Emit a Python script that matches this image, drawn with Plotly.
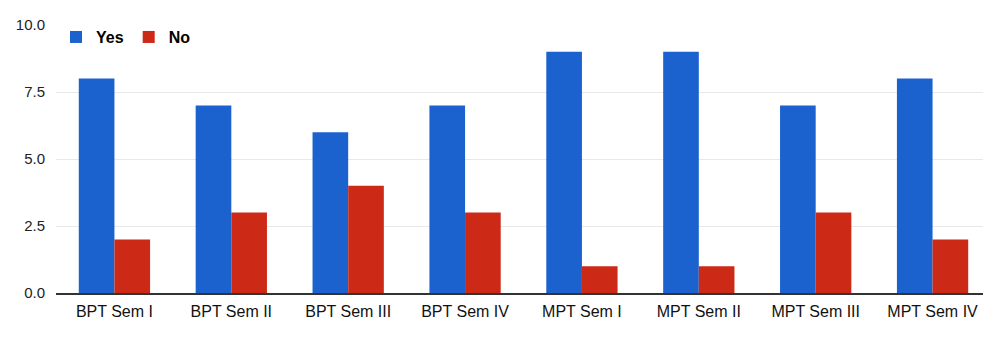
import plotly.graph_objects as go

categories = ["BPT Sem I", "BPT Sem II", "BPT Sem III", "BPT Sem IV",
              "MPT Sem I", "MPT Sem II", "MPT Sem III", "MPT Sem IV"]
yes_values = [8, 7, 6, 7, 9, 9, 7, 8]
no_values = [2, 3, 4, 3, 1, 1, 3, 2]
y_ticks = [0, 2.5, 5, 7.5, 10]
y_tick_labels = ["0.0", "2.5", "5.0", "7.5", "10.0"]

fig = go.Figure()
fig.add_trace(go.Bar(x=categories, y=yes_values, name="Yes",
                     marker=dict(color="#1b62cf", line=dict(width=0))))
fig.add_trace(go.Bar(x=categories, y=no_values, name="No",
                     marker=dict(color="#cc2a17", line=dict(width=0))))

fig.update_layout(
    width=991, height=351,
    margin=dict(l=44, r=8, t=12, b=66),
    paper_bgcolor="white", plot_bgcolor="white",
    barmode="group", bargap=0.39, bargroupgap=0,
    font=dict(family="Liberation Sans, Arial, sans-serif", size=15, color="#111"),
    legend=dict(orientation="h", x=0.0, xanchor="left", y=0.955, yanchor="middle",
                font=dict(size=16, color="#000", weight="bold"), itemwidth=30,
                bgcolor="rgba(0,0,0,0)"),
    showlegend=True,
)
fig.update_xaxes(showgrid=False, showline=True, linecolor="#333", linewidth=1.5,
                 ticks="", tickfont=dict(size=16, color="#111"), ticklabelstandoff=3)
fig.update_yaxes(range=[0, 10], tickvals=y_ticks, ticktext=y_tick_labels,
                 showgrid=True, gridcolor="#e8e8e8", gridwidth=1, zeroline=False,
                 showline=False, ticks="", tickfont=dict(size=15, color="#222"),
                 ticklabelstandoff=10)

fig.write_html("out.html")
